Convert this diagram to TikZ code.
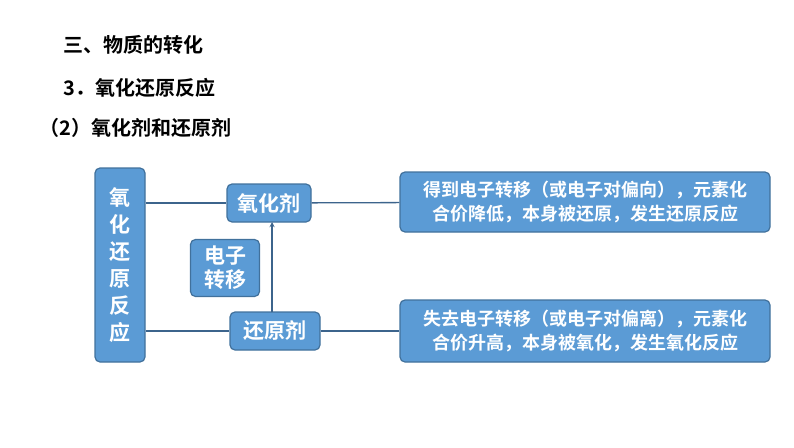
\documentclass[tikz,border=0pt]{standalone}
\usepackage{fontspec}
\newfontfamily\cjk{Noto Sans CJK SC}[BoldFont={* Bold}]
\begin{document}
\begin{tikzpicture}[x=1pt,y=-1pt,
 bx/.style={draw={rgb,255:red,65;green,113;blue,156}, line width=1.2pt, fill={rgb,255:red,91;green,155;blue,213}, rounded corners=5pt, text=white, font=\cjk\bfseries\fontsize{21}{24}\selectfont, align=center, inner sep=0pt},
 ln/.style={draw={rgb,255:red,60;green,100;blue,140}, line width=1.3pt},
 tt/.style={anchor=west, font=\cjk\bfseries\fontsize{20}{22}\selectfont}]
\useasboundingbox (0,0) rectangle (794,447);
\node[tt] (t1) at (60,45) {三、物质的转化};
\node[tt] (t2) at (60,88) {3．氧化还原反应};
\node[tt] (t3) at (36,128) {（2）氧化剂和还原剂};
\node[bx, minimum width=50, minimum height=194] (L) at (120,265) {氧\\[3pt]化\\[3pt]还\\[3pt]原\\[3pt]反\\[3pt]应};
\node[bx, minimum width=84, minimum height=38] (O) at (269,203) {氧化剂};
\node[bx, minimum width=90, minimum height=38] (R) at (275,331) {还原剂};
\node[bx, minimum width=69, minimum height=57] (E) at (225,268) {电子\\转移};
\node[bx, minimum width=370, minimum height=60, font=\cjk\bfseries\fontsize{18}{24}\selectfont] (A) at (585,202) {得到电子转移（或电子对偏向），元素化\\合价降低，本身被还原，发生还原反应};
\node[bx, minimum width=370, minimum height=62, font=\cjk\bfseries\fontsize{18}{24}\selectfont] (B) at (585,331) {失去电子转移（或电子对偏离），元素化\\合价升高，本身被氧化，发生氧化反应};
\draw[ln] (L.east |- O) -- (O);
\draw[ln] (O) -- (A);
\draw[ln] (L.east |- R) -- (R);
\draw[ln] (R) -- (A.west |- R);
\draw[ln,->,>=stealth] (272,312) -- (272,222);
\end{tikzpicture}
\end{document}
